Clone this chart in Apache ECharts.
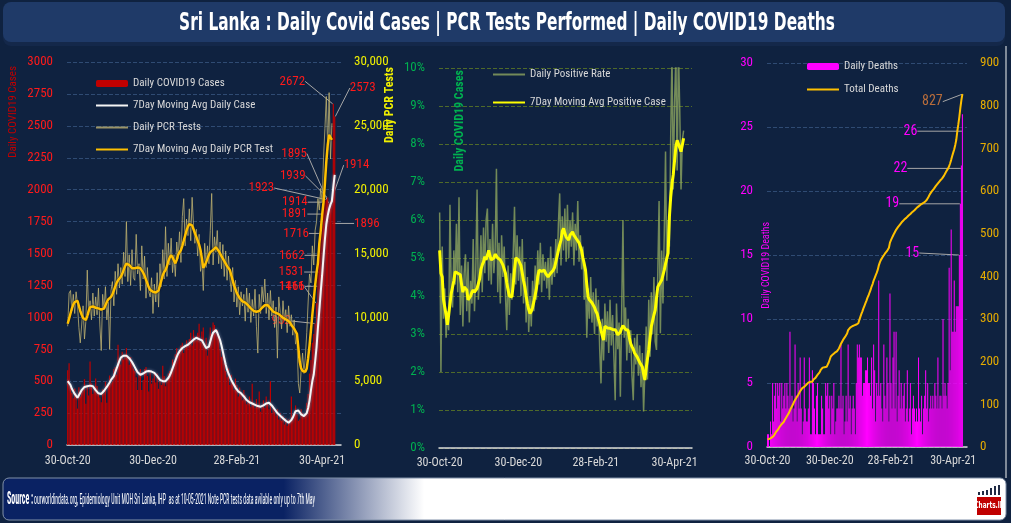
<!DOCTYPE html>
<html><head><meta charset="utf-8">
<script src="https://cdn.jsdelivr.net/npm/echarts@6/dist/echarts.min.js"></script>
<style>html,body{margin:0;padding:0;background:#0f2240;}#c{width:1011px;height:523px;}</style>
</head><body><div id="c"></div><script>
const FONT = "'Roboto Condensed','Liberation Sans Narrow','DejaVu Sans Condensed',sans-serif";
const DJ = "'DejaVu Sans Condensed',sans-serif";

// ---- categories (30-Oct-20 .. 12-May-21) ----
const MONTHS = ['Jan','Feb','Mar','Apr','May','Jun','Jul','Aug','Sep','Oct','Nov','Dec'];
const dates = [];
for (let i = 0; i < 196; i++) {
  const d = new Date(Date.UTC(2020, 9, 30) + i * 86400000);
  dates.push(String(d.getUTCDate()).padStart(2,'0') + '-' + MONTHS[d.getUTCMonth()] + '-' + String(d.getUTCFullYear()).slice(2));
}
const tickLabels = ['30-Oct-20','30-Dec-20','28-Feb-21','30-Apr-21'];

// ---- left panel ----
const dailyCases = [586,640,455,408,366,443,402,285,453,380,
412,430,516,324,470,387,655,482,400,457,
520,462,400,372,335,437,406,496,330,470,
545,483,498,596,610,550,785,680,630,730,
670,710,760,700,628,690,655,600,580,530,
430,570,595,430,510,595,610,540,420,570,
480,520,570,490,560,440,500,470,620,540,
460,500,560,580,600,670,650,710,760,700,
740,780,800,720,760,820,790,830,880,780,
900,850,820,880,950,810,890,920,760,840,
700,780,920,870,960,940,880,900,860,750,
690,720,640,580,530,600,470,550,490,430,
520,470,380,450,410,350,430,390,320,350,
380,300,480,330,290,360,310,420,260,300,
350,290,380,330,280,500,250,300,260,230,
280,200,250,190,230,160,210,150,200,180,
380,210,250,310,240,190,200,280,250,230,
240,330,400,560,665,800,870,952,1111,1466,
1531,1662,1716,1891,1914,1923,1939,1895,1914,1896,
2672,2573];
const casesMA7 = [500,490,470,440,420,400,385,370,390,410,
430,445,455,460,460,455,465,470,460,445,
430,415,405,400,400,410,425,440,455,470,
490,510,520,540,570,600,630,660,685,700,
700,705,700,690,680,670,650,630,610,590,
570,555,550,555,560,570,575,580,580,578,
575,570,565,555,540,525,510,500,500,500,
500,510,525,545,570,600,630,660,690,715,
735,750,760,770,775,780,785,795,805,815,
825,835,840,835,830,830,820,800,780,760,
750,770,810,850,880,895,900,880,850,822,
780,730,680,630,590,560,535,510,490,470,
450,435,420,410,405,395,380,365,352,340,
335,330,325,320,315,310,305,302,300,305,
310,318,325,330,331,325,310,295,280,265,
250,240,230,220,210,200,190,182,175,180,
195,215,240,265,280,270,255,240,230,227,
235,250,290,350,430,500,552,654,765,918,
1056,1199,1330,1476,1613,1729,1797,1849,1885,1910,
2022,2116];
const dailyPCR = [9300,11900,12100,10500,11800,10300,12000,11000,9200,8000,
9400,10900,8300,9700,13700,10200,11300,9800,11900,10100,
11600,10200,12300,9400,7400,11800,10600,12400,9800,11200,
7500,12100,12800,10900,13600,11800,14200,12300,13900,12600,
15100,13200,17500,12800,14900,12500,15300,13100,12900,16500,
13400,14200,12100,15600,13000,14800,11500,13900,12000,11600,
13100,10300,12600,11200,13500,10800,14200,12400,15300,13000,
17100,13200,15800,14100,16200,13500,14900,13200,15900,14600,
16700,14300,17900,19300,15600,17700,16400,18500,16000,19400,
17200,15800,16900,14800,16500,13600,14400,12100,15800,13900,
15600,14200,16800,19700,14100,16300,15100,16800,14200,15900,
13800,15700,13200,15200,12900,14800,13100,12000,13900,11200,
12900,10800,12400,10200,12000,10900,11800,9700,12300,10400,
11900,9600,11400,10100,12200,9300,7200,11800,10300,12400,
11200,13000,10300,11900,9800,12100,10100,11300,9200,10800,
6800,11600,10400,9100,11300,9700,10600,8800,10900,9300,
10200,8600,9800,7900,8400,4800,4070,5900,7200,5600,
6900,8800,11200,13400,12700,15600,14100,16800,17500,19300,
18400,20100,19000,22500,24800,27300,23100,27600,22400,25200];
const pcrMA7 = [9500,9900,10300,10700,11000,11200,11350,11300,10900,10500,
10200,9950,9800,9790,10100,10500,10800,10880,10850,10800,
10750,10750,10700,10650,10600,10570,10700,10950,11200,11400,
11550,11610,11800,12100,12400,12700,12900,13050,13180,13400,
13700,14000,14200,14230,14100,13950,13850,13800,13850,13900,
13900,13860,13840,13700,13500,13250,12950,12650,12350,12150,
12050,12000,12000,11950,12000,12100,12500,12900,13300,13550,
13710,14000,14400,14700,14880,14700,14450,14230,14500,14900,
15100,15270,15600,16000,16400,16800,17100,17300,17360,17200,
16900,16600,16300,16000,15700,15270,14600,13860,14000,14300,
14600,14900,15100,15200,15270,15400,15500,15400,15200,15000,
14800,14600,14400,14200,14000,13850,13700,13300,12900,12500,
12200,11900,11700,11500,11350,11250,11220,11150,11050,10950,
10800,10700,10600,10500,10450,10440,10440,10500,10600,10750,
10850,10950,11000,10960,10850,10700,10550,10450,10380,10350,
10310,10250,10150,10050,9950,9900,9850,9790,9700,9600,
9400,9300,9100,9050,8700,7600,6500,6000,5800,5750,
5740,6000,6800,7800,9000,10200,11350,12500,13500,14250,
15800,16800,18000,19000,20500,22200,23500,24300,24100,23900];

// ---- middle panel (%) ----
const dailyPositiveRate = [6.2,2.0,5.3,3.4,4.2,2.9,3.6,3.1,6.4,4.0,
3.7,5.2,4.3,5.9,4.1,6.6,3.5,4.8,3.2,4.6,
5.1,3.6,4.9,3.3,4.4,3.8,5.5,3.6,4.7,6.8,
3.9,4.5,5.6,4.1,5.8,4.6,6.0,6.3,4.4,5.5,
4.3,5.9,4.6,5.2,7.35,4.1,5.4,3.8,5.6,4.5,
5.3,4.0,3.1,4.8,3.5,4.6,3.9,5.1,6.35,4.3,
5.6,4.4,5.3,4.0,5.5,3.8,4.9,3.3,4.5,3.05,
4.0,3.2,4.4,3.6,4.8,3.9,5.2,4.3,5.4,4.1,
5.1,4.4,4.9,4.2,5.0,3.9,5.3,4.3,5.0,4.5,
5.5,4.6,5.9,6.7,4.8,6.1,5.2,6.3,4.9,6.4,
5.0,6.0,5.3,6.2,4.8,5.9,5.2,6.5,4.9,5.6,
4.7,5.3,3.9,4.6,2.9,4.2,3.4,4.5,3.3,4.1,
3.0,4.2,3.2,3.9,2.6,1.7,3.4,2.3,3.8,2.8,
3.6,2.5,3.9,2.7,3.5,2.4,1.26,3.8,2.6,3.3,
1.35,3.5,6.0,2.9,3.7,2.3,3.4,2.5,3.1,1.9,
1.26,2.9,2.2,3.0,1.9,2.7,1.6,2.5,0.96,2.0,
3.2,1.8,3.9,2.4,4.1,3.0,4.5,2.8,2.58,4.6,
6.5,3.02,5.2,3.8,5.6,7.8,4.4,6.0,5.3,8.2,
10.4,6.8,9.1,10.3,7.3,10.5,8.9,6.8,8.1,8.35];
const positiveMA7 = [5.2,4.6,4.5,3.9,3.9,3.5,3.24,3.5,3.8,4.07,
4.1,4.4,4.64,4.65,4.6,4.55,4.56,4.3,4.1,4.24,
4.2,4.16,3.9,3.85,4.0,4.1,4.16,4.1,4.15,4.2,
4.2,4.45,4.7,4.82,4.9,5.04,4.95,5.0,5.2,5.05,
4.95,4.95,5.0,5.1,5.13,5.0,4.98,4.95,4.9,4.82,
4.78,4.6,4.35,4.16,4.0,3.98,3.98,4.3,4.7,5.0,
4.98,4.95,4.95,4.8,4.6,4.4,4.24,4.0,3.8,3.65,
3.54,3.6,3.7,3.85,3.9,4.2,4.5,4.68,4.7,4.65,
4.7,4.68,4.6,4.55,4.5,4.5,4.6,4.55,4.68,4.75,
4.9,5.05,5.2,5.35,5.47,5.7,5.78,5.65,5.55,5.5,
5.47,5.6,5.65,5.69,5.6,5.55,5.5,5.47,5.4,5.3,
5.2,5.0,4.85,4.68,4.3,3.98,3.9,3.85,3.82,3.8,
3.7,3.6,3.54,3.4,3.28,3.1,2.95,2.84,3.2,3.18,
3.16,3.15,3.15,3.14,3.12,3.1,3.11,3.05,2.98,2.93,
3.05,3.15,3.22,3.2,3.12,3.15,3.1,2.9,2.75,2.67,
2.6,2.5,2.45,2.4,2.35,2.25,2.2,2.14,1.95,1.79,
2.1,2.35,2.58,2.9,3.2,3.35,3.5,3.63,3.95,4.24,
4.3,4.35,4.42,4.55,4.68,4.85,5.0,5.13,6.09,6.6,
6.96,7.2,7.2,7.93,8.1,8.15,7.9,7.8,7.85,8.15];

// ---- right panel ----
const dailyDeaths = [1,1,0,2,1,5,2,4,5,3,
5,4,5,2,5,3,4,5,3,5,
4,3,9,3,4,2,3,8,4,2,
5,3,7,3,1,2,7,3,2,2,
3,7,1,1,6,5,3,1,4,5,
1,1,1,4,3,1,1,5,4,5,
3,4,1,4,3,5,1,2,3,3,
4,3,8,3,4,1,2,4,2,8,
3,4,1,3,4,3,1,5,8,7,
8,7,7,4,5,5,6,6,7,5,
5,4,7,3,8,6,2,5,4,13,
4,5,3,2,8,4,3,7,5,2,
12,5,3,7,9,3,9,2,4,6,
3,5,3,4,5,2,3,6,2,3,
5,1,3,4,3,2,3,2,7,3,
2,4,1,3,4,6,3,5,2,3,
4,3,4,3,5,4,3,7,3,4,
4,3,10,4,5,4,3,5,14,6,
17,9,9,13,9,11,11,11,15,19,
22,26];
const totalDeaths = [18,19,19,21,22,24,26,30,34,37,
40,44,48,50,54,57,59,64,67,72,
76,80,86,91,95,100,106,110,114,118,
122,126,131,135,138,141,141,144,146,148,
151,152,153,153,153,158,161,162,166,169,
172,175,180,184,186,187,187,188,188,193,
198,205,212,215,217,219,221,222,224,227,
231,234,242,245,251,254,258,262,266,274,
277,280,281,283,284,285,286,287,288,290,
298,305,312,318,325,331,337,343,350,355,
362,368,376,382,390,396,402,408,415,425,
432,438,442,446,450,453,456,459,462,467,
479,485,490,495,500,504,509,513,516,519,
522,525,528,531,533,535,537,539,542,544,
546,548,551,553,555,557,560,562,564,566,
568,570,571,572,574,575,579,583,587,592,
596,599,602,605,609,612,615,618,622,624,
626,629,632,636,640,645,649,653,658,665,
673,682,690,698,708,720,740,756,774,795,
813,827];

// ---- annotation layout (label offsets, px) ----
const caseLabelOffsets = {177:[-34,9],178:[-25,-5],179:[-26,40],180:[-28,34],181:[-29,34],182:[-26,19],183:[-29,22],184:[-30,13],185:[-65,0],186:[-35,-10],187:[-35,-38],188:[26,-24],189:[35,32],190:[-41,-11],191:[28,-17]};
const deathLabelOffsets = {188:[-47,10],189:[-68,12],190:[-61,15],191:[-52,29]};
const totalLabelOffset = [-30, 20];
const lastDeathIdx = totalDeaths.length - 1;

function offsetLayout(map) {
  return function (p) { const o = map[p.dataIndex]; return o ? {dx: o[0], dy: o[1]} : {}; };
}
function withLabels(arr, map) {
  return arr.map((v, i) => map[i] ? {value: v, label: {show: true}} : v);
}

const chart = echarts.init(document.getElementById('c'));
const gridLine = {lineStyle: {color: '#2f4b73', type: 'dashed', width: 1}};
const xAxisBase = (g, margin) => ({
  type: 'category', gridIndex: g, data: dates, boundaryGap: true,
  axisLine: {lineStyle: {color: '#d9d9d9', width: 1.5}},
  axisTick: {show: false}, splitLine: {show: false},
  axisLabel: {interval: (i, v) => tickLabels.indexOf(v) >= 0, color: '#d9d9d9', fontSize: 12, margin: margin, fontFamily: FONT}
});
const legendBase = {orient: 'vertical', itemWidth: 32, itemHeight: 7, selectedMode: false, padding: 0,
  textStyle: {color: '#d9d9d9', fontSize: 11, fontFamily: FONT}};
const lineLegend = name => ({name: name, itemStyle: {opacity: 0}});

const option = {
  backgroundColor: '#0f2240',
  animation: false,
  textStyle: {fontFamily: FONT},
  grid: [
    {left: 67, top: 62, width: 274, height: 383},
    {left: 439, top: 68, width: 253, height: 380},
    {left: 767, top: 63, width: 200, height: 384}
  ],
  legend: [
    Object.assign({}, legendBase, {left: 95, top: 78, itemGap: 11,
      data: ['Daily COVID19 Cases', lineLegend('7Day Moving Avg Daily Case'), lineLegend('Daily PCR Tests'), lineLegend('7Day Moving Avg Daily PCR Test')]}),
    Object.assign({}, legendBase, {left: 492, top: 69, itemGap: 17,
      data: [lineLegend('Daily Positive Rate'), lineLegend('7Day Moving Avg Positive Case')]}),
    Object.assign({}, legendBase, {left: 806, top: 61, itemGap: 12,
      data: ['Daily Deaths', lineLegend('Total Deaths')]})
  ],
  xAxis: [xAxisBase(0, 10), xAxisBase(1, 9), xAxisBase(2, 8)],
  yAxis: [
    {type: 'value', gridIndex: 0, min: 0, max: 3000, interval: 250, position: 'left',
      axisLine: {show: false}, axisTick: {show: false}, splitLine: gridLine,
      axisLabel: {color: '#ff1a1a', fontSize: 13, margin: 14, formatter: v => String(v)}},
    {type: 'value', gridIndex: 0, min: 0, max: 30000, interval: 5000, position: 'right',
      axisLine: {show: false}, axisTick: {show: false}, splitLine: {show: false},
      axisLabel: {color: '#f0f000', fontSize: 13, margin: 13, formatter: v => v.toLocaleString('en-US')}},
    {type: 'value', gridIndex: 1, min: 0, max: 10, interval: 1, position: 'left',
      axisLine: {show: false}, axisTick: {show: false},
      splitLine: {lineStyle: {color: '#4f6a2a', type: 'dashed', width: 1}},
      axisLabel: {color: '#00b050', fontSize: 13, margin: 14, formatter: v => v + '%'}},
    {type: 'value', gridIndex: 2, min: 0, max: 30, interval: 5, position: 'left',
      axisLine: {show: false}, axisTick: {show: false}, splitLine: gridLine,
      axisLabel: {color: '#ff00ff', fontSize: 13, margin: 14}},
    {type: 'value', gridIndex: 2, min: 0, max: 900, interval: 100, position: 'right',
      axisLine: {show: false}, axisTick: {show: false}, splitLine: {show: false},
      axisLabel: {color: '#e6ac00', fontSize: 13, margin: 13}}
  ],
  series: [
    {name: 'Daily COVID19 Cases', type: 'bar', xAxisIndex: 0, yAxisIndex: 0,
      data: withLabels(dailyCases, caseLabelOffsets), barCategoryGap: '15%',
      itemStyle: {color: '#c00000'},
      label: {show: false, position: 'top', color: '#ff1a1a', fontSize: 13, fontFamily: FONT},
      labelLine: {show: true, lineStyle: {color: '#a6a6a6', width: 1}},
      labelLayout: offsetLayout(caseLabelOffsets)},
    {name: 'Daily PCR Tests', type: 'line', xAxisIndex: 0, yAxisIndex: 1, data: dailyPCR,
      symbol: 'none', itemStyle: {color: '#b5aa70'},
      lineStyle: {color: 'rgba(190,178,112,0.8)', width: 1}},
    {name: '7Day Moving Avg Daily PCR Test', type: 'line', xAxisIndex: 0, yAxisIndex: 1, data: pcrMA7,
      symbol: 'none', itemStyle: {color: '#ffc000'},
      lineStyle: {color: '#ffc000', width: 2.5, shadowColor: 'rgba(0,0,0,0.7)', shadowBlur: 2}},
    {name: '7Day Moving Avg Daily Case', type: 'line', xAxisIndex: 0, yAxisIndex: 0, data: casesMA7,
      symbol: 'none', itemStyle: {color: '#f2f2f2'},
      lineStyle: {color: '#f5f5f5', width: 2, shadowColor: 'rgba(130,140,165,1)', shadowBlur: 3}},
    {name: 'Daily Positive Rate', type: 'line', xAxisIndex: 1, yAxisIndex: 2, data: dailyPositiveRate,
      symbol: 'none', itemStyle: {color: '#8ea35f'},
      lineStyle: {color: 'rgba(140,165,95,0.8)', width: 1.5}},
    {name: '7Day Moving Avg Positive Case', type: 'line', xAxisIndex: 1, yAxisIndex: 2, data: positiveMA7,
      symbol: 'none', itemStyle: {color: '#ffff00'},
      lineStyle: {color: '#ffff00', width: 3}},
    {name: 'Daily Deaths', type: 'bar', xAxisIndex: 2, yAxisIndex: 3,
      data: withLabels(dailyDeaths, deathLabelOffsets), barCategoryGap: '0%',
      itemStyle: {color: '#ff00ff'},
      label: {show: false, position: 'top', color: '#ff00ff', fontSize: 14, fontFamily: FONT},
      labelLine: {show: true, lineStyle: {color: '#a6a6a6', width: 1}},
      labelLayout: offsetLayout(deathLabelOffsets)},
    {name: 'Total Deaths', type: 'line', xAxisIndex: 2, yAxisIndex: 4, data: totalDeaths,
      symbol: 'none', itemStyle: {color: '#ffc000'},
      lineStyle: {color: '#ffc000', width: 2}},
    {name: 'Total Deaths label', type: 'scatter', xAxisIndex: 2, yAxisIndex: 4,
      data: [[dates[lastDeathIdx], totalDeaths[lastDeathIdx]]], symbolSize: 1,
      itemStyle: {color: '#ffc000'},
      label: {show: true, position: 'top', color: '#e2803a', fontSize: 14, fontFamily: FONT,
        formatter: p => String(p.value[1])},
      labelLine: {show: true, lineStyle: {color: '#a6a6a6', width: 1}},
      labelLayout: () => ({dx: totalLabelOffset[0], dy: totalLabelOffset[1]})}
  ],
  graphic: [
    {type: 'rect', z: -10, shape: {x: 3, y: 4, width: 1002, height: 42, r: 8}, style: {fill: '#14284a'}},
    {type: 'rect', z: -9, shape: {x: 3, y: 2, width: 1002, height: 40, r: 8}, style: {fill: '#1f3a68'}},
    {type: 'text', z: 5, x: 507, y: 23, scaleX: 0.684,
      style: {text: 'Sri Lanka : Daily Covid Cases | PCR Tests Performed | Daily COVID19 Deaths',
        fill: '#ffffff', font: 'bold 25px ' + DJ, align: 'center', verticalAlign: 'middle'}},
    {type: 'line', z: -5, shape: {x1: 1006, y1: 46, x2: 1006, y2: 478}, style: {stroke: '#7f8a99', lineWidth: 2}},
    {type: 'rect', z: -5, shape: {x: 3, y: 478, width: 1003, height: 42, r: 6},
      style: {stroke: '#8090a8', lineWidth: 1,
        fill: new echarts.graphic.LinearGradient(0, 0, 1, 0, [
          {offset: 0, color: '#0a2263'}, {offset: 0.28, color: '#0a2263'},
          {offset: 0.42, color: '#ffffff'}, {offset: 1, color: '#ffffff'}])}},
    {type: 'text', z: 5, x: 7, y: 499, scaleX: 0.42,
      style: {text: 'Source :', fill: '#ffffff', font: 'bold 19px ' + FONT, verticalAlign: 'middle'}},
    {type: 'text', z: 5, x: 34, y: 500, scaleX: 0.41,
      style: {text: 'ourworldindata.org, Epidemiology Unit MOH Sri Lanka, IHP  as at 10-05-2021 Note PCR tests data avilable only up to 7th May',
        fill: '#ffffff', font: '14px ' + FONT, verticalAlign: 'middle'}},
    // logo
    {type: 'rect', z: 5, shape: {x: 977, y: 497, width: 24, height: 18}, style: {fill: '#c00000'}},
    {type: 'text', z: 6, x: 989, y: 506, scaleX: 0.8, style: {text: 'Charts.lk', fill: '#ffffff', font: 'bold 8px ' + DJ, align: 'center', verticalAlign: 'middle'}},
    {type: 'rect', z: 5, shape: {x: 978, y: 492, width: 2, height: 3}, style: {fill: '#1f2a44'}},
    {type: 'rect', z: 5, shape: {x: 982, y: 491, width: 2, height: 4}, style: {fill: '#1f2a44'}},
    {type: 'rect', z: 5, shape: {x: 986, y: 490, width: 2, height: 5}, style: {fill: '#1f2a44'}},
    {type: 'rect', z: 5, shape: {x: 990, y: 488, width: 2, height: 7}, style: {fill: '#1f2a44'}},
    {type: 'rect', z: 5, shape: {x: 994, y: 486, width: 2, height: 9}, style: {fill: '#1f2a44'}},
    {type: 'rect', z: 5, shape: {x: 998, y: 485, width: 2, height: 10}, style: {fill: '#1f2a44'}},
    // axis titles
    {type: 'text', z: 5, x: 13, y: 66, rotation: Math.PI / 2,
      style: {text: 'Daily COVID19 Cases', fill: '#c00000', font: '11px ' + FONT, align: 'right', verticalAlign: 'middle'}},
    {type: 'text', z: 5, x: 390, y: 67, rotation: Math.PI / 2,
      style: {text: 'Daily PCR Tests', fill: '#f0f000', font: 'bold 12px ' + FONT, align: 'right', verticalAlign: 'middle'}},
    {type: 'text', z: 5, x: 460, y: 70, rotation: Math.PI / 2,
      style: {text: 'Daily COVID19 Cases', fill: '#00b050', font: 'bold 12px ' + FONT, align: 'right', verticalAlign: 'middle'}},
    {type: 'text', z: 5, x: 766, y: 222, rotation: Math.PI / 2,
      style: {text: 'Daily COVID19 Deaths', fill: '#ff00ff', font: '10px ' + FONT, align: 'right', verticalAlign: 'middle'}}
  ]
};
chart.setOption(option);
</script></body></html>
